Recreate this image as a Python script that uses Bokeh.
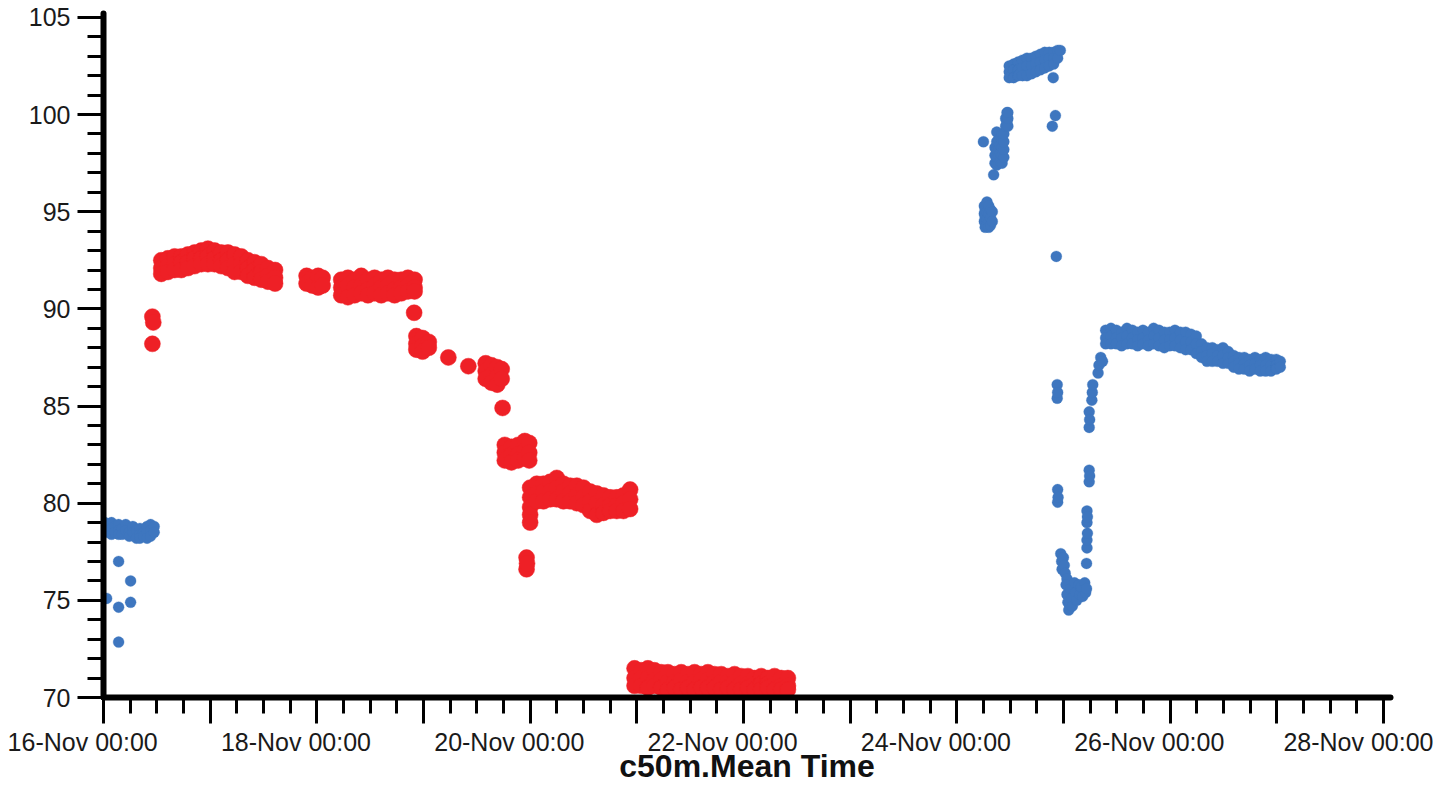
from datetime import datetime, timedelta
from bokeh.plotting import figure
from bokeh.models import FixedTicker, CustomJSTickFormatter, Range1d
from bokeh.embed import file_html
from bokeh.resources import INLINE

# ---------------- data (hours after 16-Nov 00:00, value) ----------------
START = datetime(2021, 11, 16, 0, 0)

red_rows = [
    (11.0, [89.6, 88.2]), (11.2, [89.3]),
    (13.0, [92.5, 92.1, 91.8]), (14.5, [92.6, 92.2, 91.9]), (16.0, [92.7, 92.3, 92.0]),
    (17.5, [92.7, 92.4, 92.0]), (19.0, [92.8, 92.4, 92.1]), (20.5, [92.9, 92.6, 92.2]),
    (22.0, [93.0, 92.6, 92.3]), (23.5, [93.1, 92.7, 92.3]), (25.0, [93.0, 92.6, 92.3]),
    (26.5, [92.9, 92.5, 92.2]), (28.0, [92.9, 92.5, 92.1]), (29.5, [92.8, 92.3, 91.9]),
    (31.0, [92.7, 92.3, 91.9]), (32.5, [92.5, 92.1, 91.7]), (34.0, [92.4, 92.0, 91.6]),
    (35.5, [92.3, 91.9, 91.5]), (37.0, [92.1, 91.7, 91.4]), (38.6, [92.0, 91.6, 91.3]),
    (45.7, [91.7, 91.3]), (47.0, [91.6, 91.2]), (48.3, [91.7, 91.1]), (49.3, [91.6, 91.2]),
    (53.5, [91.5, 91.1, 90.7]), (55.0, [91.6, 91.2, 90.6]), (56.5, [91.5, 91.1, 90.7]),
    (58.0, [91.7, 91.2, 90.8]), (59.5, [91.5, 91.0, 90.7]), (61.0, [91.6, 91.2, 90.8]),
    (62.5, [91.5, 91.1, 90.7]), (64.0, [91.6, 91.2, 90.8]), (65.5, [91.5, 91.0, 90.7]),
    (67.0, [91.5, 91.1, 90.8]), (68.5, [91.6, 91.2, 90.9]), (70.0, [91.5, 91.1, 90.9]),
    (69.9, [89.8]),
    (70.4, [88.6, 88.2, 87.9]), (71.8, [88.5, 88.1, 87.8]), (73.2, [88.3, 88.0]),
    (77.6, [87.5]), (82.1, [87.05]),
    (86.0, [87.2, 86.8, 86.4]), (87.3, [87.1, 86.6, 86.2]), (88.6, [87.0, 86.5, 86.1]),
    (89.6, [86.9, 86.4]), (89.8, [84.9]),
    (90.3, [83.0, 82.6, 82.2]), (91.8, [82.9, 82.5, 82.1]), (93.3, [83.0, 82.5, 82.2]),
    (94.8, [83.2, 82.7, 82.3]), (95.8, [83.1, 82.6, 82.2]),
    (95.2, [77.2, 76.6]), (95.3, [76.9]),
    (96.0, [80.8, 80.3, 79.8, 79.4, 79.0]), (97.5, [81.0, 80.5, 80.1]),
    (99.0, [81.0, 80.6, 80.1]), (100.5, [81.1, 80.6, 80.2]), (102.0, [81.3, 80.8, 80.2]),
    (103.5, [81.0, 80.6, 80.1]), (105.0, [80.9, 80.5, 80.1]), (106.5, [80.9, 80.4, 80.0]),
    (108.0, [80.8, 80.3, 79.9]), (109.5, [80.6, 80.1, 79.6]), (111.0, [80.5, 80.0, 79.4]),
    (112.5, [80.4, 79.9, 79.5]), (114.0, [80.3, 79.9, 79.6]), (115.5, [80.3, 79.9, 79.6]),
    (117.0, [80.4, 80.0, 79.6]), (118.5, [80.7, 80.2, 79.7]),
    (119.5, [71.5, 71.0, 70.6]), (121.0, [71.4, 71.0, 70.6]), (122.5, [71.5, 71.0, 70.5]),
    (124.0, [71.4, 70.9, 70.6]), (125.5, [71.3, 70.9, 70.5]), (127.0, [71.3, 70.8, 70.4]),
    (128.5, [71.2, 70.8, 70.5]), (130.0, [71.3, 70.9, 70.4]), (131.5, [71.2, 70.8, 70.5]),
    (133.0, [71.3, 70.8, 70.4]), (134.5, [71.2, 70.9, 70.5]), (136.0, [71.3, 70.9, 70.5]),
    (137.5, [71.2, 70.8, 70.5]), (139.0, [71.2, 70.8, 70.4]), (140.5, [71.1, 70.8, 70.5]),
    (142.0, [71.2, 70.8, 70.4]), (143.5, [71.1, 70.7, 70.4]), (145.0, [71.1, 70.7, 70.5]),
    (146.5, [71.0, 70.7, 70.4]), (148.0, [71.1, 70.7, 70.4]), (149.5, [71.0, 70.7, 70.5]),
    (151.0, [71.1, 70.7, 70.4]), (152.5, [71.0, 70.6, 70.4]), (154.0, [71.0, 70.6, 70.4]),
]

blue_rows = [
    (0.3, [79.0, 78.6]), (1.0, [78.9, 78.5]), (1.8, [79.0, 78.7, 78.4]), (2.6, [78.8, 78.5]),
    (3.4, [78.9, 78.6, 78.4]), (4.2, [78.7, 78.4]), (5.0, [78.9, 78.6]), (5.8, [78.5, 78.3]),
    (6.6, [78.8, 78.5]), (7.4, [78.6, 78.2]), (8.2, [78.7, 78.4, 78.2]), (9.0, [78.5, 78.3]),
    (9.8, [78.8, 78.5, 78.2]), (10.6, [78.9, 78.6, 78.3]), (11.4, [78.8, 78.5]),
    (0.7, [75.1]), (3.4, [77.0, 74.65, 72.85]), (6.1, [76.0, 74.9]),
    (198.0, [98.6]),
    (198.2, [95.3, 94.9, 94.5]), (198.4, [95.1, 94.7, 94.2]), (198.8, [95.5, 95.0, 94.6, 94.3]),
    (199.2, [95.3, 94.9, 94.5, 94.2]), (199.6, [95.1, 94.7, 94.3]), (200.0, [95.0, 94.5]),
    (200.3, [96.9]),
    (200.6, [97.5, 97.9, 98.3]), (201.0, [97.4, 97.8, 98.2, 98.6, 99.1]),
    (201.4, [97.5, 97.9, 98.3, 98.7]), (201.8, [97.6, 98.0, 98.4, 98.8]),
    (202.2, [97.5, 97.9, 98.3, 98.7, 99.0]), (202.6, [97.8, 98.2, 98.6, 99.0]),
    (203.0, [99.4, 99.8]), (203.3, [99.6, 100.1]), (203.5, [99.4, 99.8, 100.1]),
    (203.8, [102.5, 102.2, 101.9]), (204.8, [102.6, 102.3, 101.9]), (205.8, [102.7, 102.3, 102.0]),
    (206.8, [102.8, 102.4, 102.0]), (207.8, [102.9, 102.5, 102.0]), (208.8, [102.9, 102.5, 102.1]),
    (209.8, [103.0, 102.6, 102.2]), (210.8, [103.1, 102.7, 102.3]), (211.8, [103.2, 102.8, 102.4]),
    (212.8, [103.2, 102.9, 102.5]), (213.8, [103.2, 102.9, 102.6]), (214.7, [103.3, 102.9]),
    (215.3, [103.3]), (213.7, [101.9]),
    (214.2, [99.95]), (213.5, [99.4]), (214.4, [92.7]),
    (214.6, [86.1, 85.4]), (214.7, [85.7, 80.7, 80.05]), (214.8, [80.3]),
    (215.4, [77.4]), (215.6, [77.0]), (215.7, [76.6]), (216.0, [77.2]), (216.2, [76.8]),
    (216.4, [76.4]), (216.8, [76.1, 75.3]),
    (216.6, [75.8]), (217.0, [74.9]), (217.2, [74.5]), (217.6, [75.6]), (217.8, [75.1]),
    (218.0, [74.7]), (218.5, [75.9]), (218.7, [75.4]), (219.0, [75.0]), (219.5, [75.8]),
    (219.7, [75.3]), (220.0, [75.7]), (220.3, [75.2]), (220.8, [75.9]), (221.0, [75.4]), (221.2, [75.6, 76.9]),
    (221.3, [77.7, 78.1, 79.0, 79.6]), (221.4, [78.45, 79.3]),
    (221.8, [81.1, 81.7, 83.9, 84.7]), (221.9, [81.4, 84.3]),
    (222.4, [85.3]), (222.5, [85.7]), (222.6, [86.1]),
    (223.8, [86.7]), (224.0, [87.1]), (224.4, [87.5]), (224.8, [87.3]),
    (225.5, [88.9, 88.5, 88.2]), (226.7, [89.0, 88.6, 88.2]), (227.9, [88.9, 88.5, 88.2]),
    (229.1, [88.8, 88.5, 88.1]), (230.3, [89.0, 88.6, 88.2]), (231.5, [88.9, 88.5, 88.2]),
    (232.7, [88.8, 88.4, 88.1]), (233.9, [88.9, 88.5, 88.2]), (235.1, [88.8, 88.4, 88.1]),
    (236.3, [89.0, 88.6, 88.2]), (237.5, [88.9, 88.5, 88.1]), (238.7, [88.8, 88.4, 88.0]),
    (239.9, [88.8, 88.4, 88.1]), (241.1, [88.9, 88.5, 88.1]), (242.3, [88.8, 88.4, 88.0]),
    (243.5, [88.8, 88.3, 87.9]), (244.7, [88.7, 88.3, 87.9]), (245.9, [88.6, 88.2, 87.7]),
    (247.1, [88.2, 87.8, 87.5]), (248.3, [88.0, 87.6, 87.3]), (249.5, [88.0, 87.7, 87.3]),
    (250.7, [87.9, 87.6, 87.3]), (251.9, [88.0, 87.6, 87.2]), (253.1, [87.8, 87.5, 87.2]),
    (254.3, [87.6, 87.3, 87.0]), (255.5, [87.5, 87.2, 86.9]), (256.7, [87.5, 87.2, 86.9]),
    (257.9, [87.4, 87.1, 86.8]), (259.1, [87.5, 87.2, 86.9]), (260.3, [87.4, 87.1, 86.8]),
    (261.5, [87.5, 87.1, 86.8]), (262.7, [87.4, 87.1, 86.8]), (263.9, [87.4, 87.1, 86.9]),
    (264.8, [87.3, 87.0]),
]

y_major_ticks = [70, 75, 80, 85, 90, 95, 100, 105]
x_title = "c50m.Mean Time"

RED = "#ee2026"
BLUE = "#3e76bf"
FONT = "Liberation Sans"


def expand(rows):
    t, v = [], []
    for h, vals in rows:
        for y in vals:
            t.append(START + timedelta(hours=h))
            v.append(y)
    return t, v


red_t, red_v = expand(red_rows)
blue_t, blue_v = expand(blue_rows)

EPOCH = datetime(1970, 1, 1)


def ms(d):
    return (d - EPOCH).total_seconds() * 1000.0


x_end = START + timedelta(days=12, hours=1.6)

W, H = 1433, 787
p = figure(
    width=W, height=H,
    x_axis_type="datetime",
    x_range=Range1d(START, x_end),
    y_range=Range1d(70, 105.2),
    output_backend="svg", toolbar_location=None,
    min_border_left=103, min_border_right=43, min_border_top=13, min_border_bottom=90,
)
p.outline_line_color = None
p.grid.visible = False
p.background_fill_color = "white"
p.border_fill_color = "white"

p.scatter(red_t, red_v, size=16, fill_color=RED, line_color=RED, line_width=0.5)
p.scatter(blue_t, blue_v, size=11, fill_color=BLUE, line_color=BLUE, line_width=0.3)

# x axis ticks: major each day, minor each 6 hours, labels every second day
day_ticks = [ms(START + timedelta(days=i)) for i in range(13)]
minor_ticks = [ms(START + timedelta(hours=6 * i)) for i in range(12 * 4 + 1)]
p.xaxis.ticker = FixedTicker(ticks=day_ticks, minor_ticks=minor_ticks)
# labels sit a little left of their tick in the original: trailing no-break spaces
p.xaxis.formatter = CustomJSTickFormatter(args=dict(start=ms(START), last=ms(START + timedelta(days=12))), code="""
const days = Math.round((tick - start) / 86400000);
if (days % 2 !== 0) return "";
const d = new Date(tick);
const mons = ["Jan","Feb","Mar","Apr","May","Jun","Jul","Aug","Sep","Oct","Nov","Dec"];
const dd = String(d.getUTCDate()).padStart(2, "0");
const hh = String(d.getUTCHours()).padStart(2, "0");
const mm = String(d.getUTCMinutes()).padStart(2, "0");
const pad = (tick >= last) ? "" : "\\u00a0\\u00a0\\u00a0\\u00a0\\u00a0\\u00a0";
return dd + "-" + mons[d.getUTCMonth()] + " " + hh + ":" + mm + pad;
""")
p.yaxis.ticker = FixedTicker(ticks=y_major_ticks, minor_ticks=list(range(70, 106)))

for ax in (p.xaxis[0], p.yaxis[0]):
    ax.axis_line_color = "black"
    ax.axis_line_width = 6
    ax.axis_line_cap = "round"
    ax.major_tick_line_color = "black"
    ax.major_tick_line_width = 3
    ax.minor_tick_line_color = "black"
    ax.minor_tick_line_width = 3
    ax.major_tick_in = 0
    ax.minor_tick_in = 0
    ax.major_tick_out = 26
    ax.minor_tick_out = 16
    ax.major_label_text_font = FONT
    ax.major_label_text_font_size = "25px"
    ax.major_label_text_color = "#1a1a1a"
    ax.major_label_standoff = 7

p.xaxis.major_label_standoff = 4
p.xaxis.axis_label = x_title
p.xaxis.axis_label_text_font = FONT
p.xaxis.axis_label_text_font_style = "bold"
p.xaxis.axis_label_text_font_size = "32px"
p.xaxis.axis_label_text_color = "#111111"
p.xaxis.axis_label_standoff = -11

open("out.html", "w").write(file_html(p, INLINE))
